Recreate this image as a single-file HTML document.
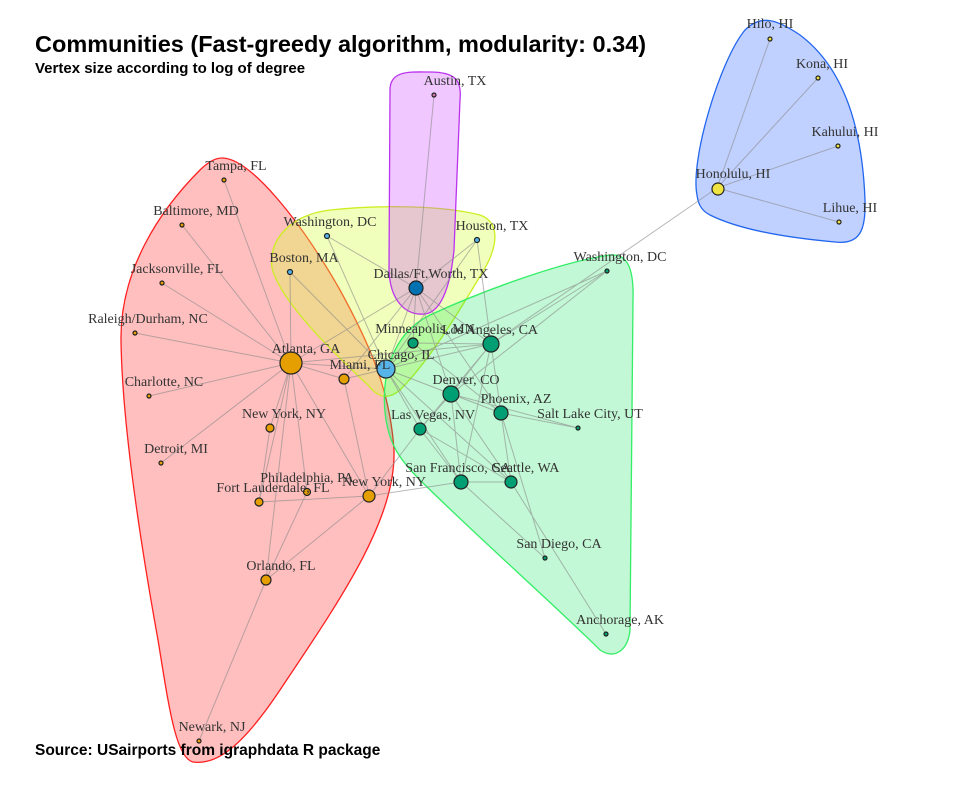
<!DOCTYPE html>
<html><head><meta charset="utf-8"><style>
body{margin:0;background:#fff;}
svg text{font-family:"Liberation Serif",serif;font-size:14px;fill:#333;text-anchor:middle;}
svg .t{font-family:"Liberation Sans",sans-serif;font-weight:bold;fill:#000;text-anchor:start;}
</style></head><body>
<svg width="974" height="781" viewBox="0 0 974 781" xmlns="http://www.w3.org/2000/svg">
<rect width="974" height="781" fill="#fff"/>
<path d="M222,158 C250,158 300,220 340,290 C370,345 390,390 394,450 C396,520 340,600 280,690 C240,750 215,765 193,762 C175,758 168,700 158,640 C140,540 122,420 121,340 C120,270 160,210 200,170 C208,162 215,158 222,158 Z" fill="#ff0000" fill-opacity="0.25" stroke="#ff2020" stroke-width="1.3"/>
<path d="M272,268 C268,240 290,215 330,210 C380,205 440,205 480,215 C500,222 498,245 485,268 C460,310 430,360 400,390 C388,400 378,398 368,385 C330,350 280,300 272,268 Z" fill="#d8ff40" fill-opacity="0.35" stroke="#ccee22" stroke-width="1.3"/>
<path d="M390,90 C390,70 410,72 430,72 C455,72 462,80 460,100 L454,250 C450,290 440,312 425,314 C405,316 390,300 389,270 Z" fill="#cc44ff" fill-opacity="0.3" stroke="#bb33ee" stroke-width="1.3"/>
<path d="M386,420 C380,380 390,335 430,315 C480,292 560,262 610,255 C628,253 634,270 633,300 L630,630 C628,650 615,660 600,650 C560,610 470,530 420,480 C400,460 390,445 386,420 Z" fill="#00e050" fill-opacity="0.24" stroke="#33ee66" stroke-width="1.3"/>
<path d="M697,195 C690,160 720,60 745,30 C760,15 775,18 800,35 C840,65 862,120 865,200 C866,230 860,245 835,242 C790,238 740,230 710,215 C700,210 698,202 697,195 Z" fill="#3366ff" fill-opacity="0.3" stroke="#2266ee" stroke-width="1.3"/>
<g stroke="#888" stroke-opacity="0.6" stroke-width="1" fill="none">
<path d="M291,363L224,180M291,363L182,225M291,363L162,283M291,363L135,333M291,363L149,396M291,363L161,463M291,363L270,428M291,363L307,492M291,363L259,502M291,363L369,496M291,363L266,580M291,363L344,379M291,363L386,369M291,363L290,272M291,363L416,288M291,363L491,344M266,580L199,741M266,580L369,496M266,580L307,492M259,502L369,496M259,502L270,428M344,379L369,496M344,379L416,288M386,369L327,236M386,369L290,272M386,369L416,288M386,369L477,240M386,369L491,344M386,369L451,394M386,369L501,413M386,369L420,429M386,369L461,482M386,369L511,482M386,369L344,379M386,369L413,343M386,369L607,271M416,288L434,95M416,288L327,236M416,288L477,240M416,288L491,344M416,288L451,394M416,288L501,413M416,288L413,343M416,288L344,379M477,240L491,344M491,344L451,394M491,344L501,413M491,344L420,429M491,344L461,482M491,344L511,482M491,344L607,271M491,344L413,343M451,394L501,413M451,394L420,429M451,394L461,482M451,394L511,482M451,394L578,428M451,394L607,271M501,413L578,428M501,413L511,482M501,413L545,558M420,429L461,482M420,429L511,482M420,429L369,496M461,482L511,482M461,482L369,496M511,482L606,634M461,482L545,558M717,188L770,39M717,188L818,78M717,188L838,146M717,188L839,222M717,188L491,344M413,343L501,413"/>
</g>
<g stroke="#222" stroke-width="1.2">
<g fill="#e69f00">
<circle cx="291" cy="363" r="11"/><circle cx="344" cy="379" r="5"/><circle cx="270" cy="428" r="4"/><circle cx="307" cy="492" r="3.5"/><circle cx="259" cy="502" r="4"/><circle cx="369" cy="496" r="6"/><circle cx="266" cy="580" r="5"/>
<circle cx="224" cy="180" r="2"/><circle cx="182" cy="225" r="2"/><circle cx="162" cy="283" r="2"/><circle cx="135" cy="333" r="2"/><circle cx="149" cy="396" r="2"/><circle cx="161" cy="463" r="2"/><circle cx="199" cy="741" r="2"/>
</g>
<g fill="#56b4e9"><circle cx="327" cy="236" r="2.5"/><circle cx="290" cy="272" r="2.5"/><circle cx="477" cy="240" r="2.5"/><circle cx="386" cy="369" r="9"/></g>
<circle cx="416" cy="288" r="7" fill="#0072b2"/>
<circle cx="434" cy="95" r="2" fill="#cc79a7"/>
<g fill="#009e73">
<circle cx="491" cy="344" r="8"/><circle cx="413" cy="343" r="5"/><circle cx="451" cy="394" r="8"/><circle cx="501" cy="413" r="7"/><circle cx="420" cy="429" r="6"/><circle cx="461" cy="482" r="7"/><circle cx="511" cy="482" r="6"/>
<circle cx="607" cy="271" r="2"/><circle cx="578" cy="428" r="2"/><circle cx="545" cy="558" r="2"/><circle cx="606" cy="634" r="2"/>
</g>
<g fill="#f0e442"><circle cx="718" cy="189" r="6"/><circle cx="770" cy="39" r="2"/><circle cx="818" cy="78" r="2"/><circle cx="838" cy="146" r="2"/><circle cx="839" cy="222" r="2"/></g>
</g>
<g>
<text x="770" y="28">Hilo, HI</text><text x="822" y="68">Kona, HI</text><text x="845" y="136">Kahului, HI</text><text x="733" y="178">Honolulu, HI</text><text x="850" y="212">Lihue, HI</text>
<text x="455" y="85">Austin, TX</text>
<text x="236" y="170">Tampa, FL</text><text x="196" y="215">Baltimore, MD</text><text x="177" y="273">Jacksonville, FL</text><text x="148" y="323">Raleigh/Durham, NC</text><text x="164" y="386">Charlotte, NC</text><text x="176" y="453">Detroit, MI</text>
<text x="306" y="353">Atlanta, GA</text><text x="360" y="369">Miami, FL</text><text x="284" y="418">New York, NY</text><text x="307" y="482">Philadelphia, PA</text><text x="273" y="492">Fort Lauderdale, FL</text><text x="384" y="486">New York, NY</text><text x="281" y="570">Orlando, FL</text><text x="212" y="731">Newark, NJ</text>
<text x="330" y="226">Washington, DC</text><text x="304" y="262">Boston, MA</text><text x="492" y="230">Houston, TX</text><text x="431" y="278">Dallas/Ft.Worth, TX</text><text x="401" y="359">Chicago, IL</text>
<text x="620" y="261">Washington, DC</text><text x="425" y="333">Minneapolis, MN</text><text x="490" y="334">Los Angeles, CA</text><text x="466" y="384">Denver, CO</text><text x="516" y="403">Phoenix, AZ</text><text x="590" y="418">Salt Lake City, UT</text><text x="433" y="419">Las Vegas, NV</text><text x="458" y="472">San Francisco, CA</text><text x="526" y="472">Seattle, WA</text><text x="559" y="548">San Diego, CA</text><text x="620" y="624">Anchorage, AK</text>
</g>
<text class="t" x="35" y="52" style="font-size:23.5px">Communities (Fast-greedy algorithm, modularity: 0.34)</text>
<text class="t" x="35" y="73" style="font-size:15px">Vertex size according to log of degree</text>
<text class="t" x="35" y="755" style="font-size:15.5px">Source: USairports from igraphdata R package</text>
</svg>
</body></html>
